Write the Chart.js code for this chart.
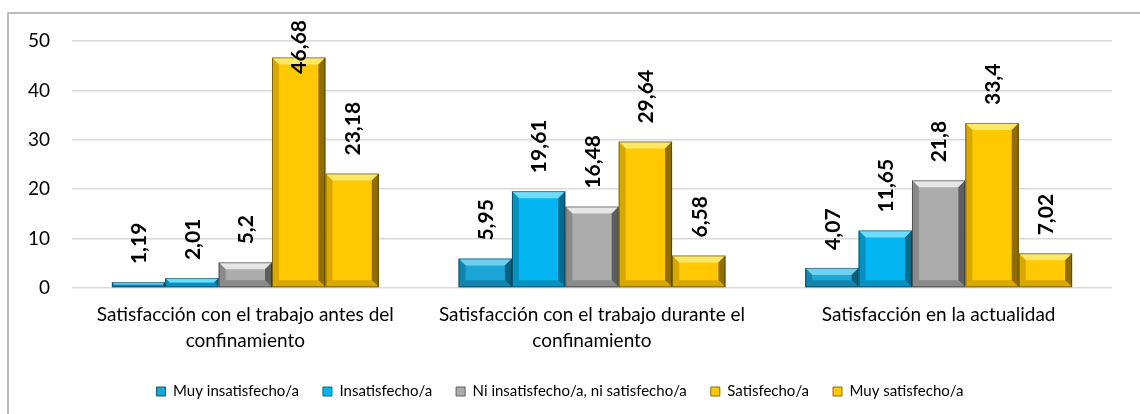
<!DOCTYPE html>
<html>
<head>
<meta charset="utf-8">
<script src="https://cdn.jsdelivr.net/npm/chart.js@4.4.1/dist/chart.umd.min.js"></script>
<style>
  html, body { margin: 0; padding: 0; background: #fff; }
  #wrap { width: 1140px; height: 414px; position: relative; }
</style>
</head>
<body>
<div id="wrap"><canvas id="chart"></canvas></div>
<script>
const categories = [
    ['Satisfacción con el trabajo antes del', 'confinamiento'],
    ['Satisfacción con el trabajo durante el', 'confinamiento'],
    'Satisfacción en la actualidad'
];
const seriesNames = [
    'Muy insatisfecho/a',
    'Insatisfecho/a',
    'Ni insatisfecho/a, ni satisfecho/a',
    'Satisfecho/a',
    'Muy satisfecho/a'
];
const muyInsatisfecho = [1.19, 5.95, 4.07];
const insatisfecho = [2.01, 19.61, 11.65];
const neutral = [5.2, 16.48, 21.8];
const satisfecho = [46.68, 29.64, 33.4];
const muySatisfecho = [23.18, 6.58, 7.02];
const yTicks = [0, 10, 20, 30, 40, 50];

// face, light bevel, side bevel, dark bevel
const palette = [
    ['#1ca6d8', '#6fd0f2', '#1284ad', '#0b5f7e'],
    ['#03b6f1', '#6fdcff', '#0591c2', '#036a8e'],
    ['#acacac', '#e6e6e6', '#8a8a8a', '#5e5e5e'],
    ['#ffc800', '#ffe866', '#d9a800', '#8f6d00'],
    ['#ffc800', '#ffe866', '#d9a800', '#8f6d00']
];

const values = [muyInsatisfecho, insatisfecho, neutral, satisfecho, muySatisfecho];

const datasets = values.map((v, i) => ({
    label: seriesNames[i],
    data: v,
    backgroundColor: palette[i][0],
    borderColor: palette[i][3],
    borderWidth: 1,
    borderSkipped: false,
    barPercentage: 1.0,
    categoryPercentage: 0.77
}));

const frame = {
    id: 'frame',
    beforeDraw(chart) {
        const ctx = chart.ctx;
        ctx.save();
        ctx.fillStyle = '#fff';
        ctx.fillRect(0, 0, chart.width, chart.height);
        ctx.strokeStyle = '#a6a6a6';
        ctx.lineWidth = 1.5;
        ctx.beginPath();
        ctx.moveTo(8, chart.height);
        ctx.lineTo(8, 13);
        ctx.lineTo(chart.width, 13);
        ctx.stroke();
        ctx.restore();
    }
};

function quad(ctx, pts, color) {
    ctx.fillStyle = color;
    ctx.beginPath();
    ctx.moveTo(pts[0][0], pts[0][1]);
    for (let k = 1; k < pts.length; k++) ctx.lineTo(pts[k][0], pts[k][1]);
    ctx.closePath();
    ctx.fill();
}

const bevel = {
    id: 'bevel',
    afterDatasetsDraw(chart) {
        const ctx = chart.ctx;
        ctx.save();
        chart.data.datasets.forEach((ds, i) => {
            const meta = chart.getDatasetMeta(i);
            meta.data.forEach(el => {
                const x0 = el.x - el.width / 2, x1 = el.x + el.width / 2;
                const top = el.y, bot = el.base;
                const b = Math.min(7, (bot - top) / 2);
                const c = palette[i];
                quad(ctx, [[x0, top], [x1, top], [x1 - b, top + b], [x0 + b, top + b]], c[1]);
                quad(ctx, [[x0, top], [x0 + b, top + b], [x0 + b, bot - b], [x0, bot]], c[2]);
                quad(ctx, [[x1, top], [x1, bot], [x1 - b, bot - b], [x1 - b, top + b]], c[3]);
                quad(ctx, [[x0, bot], [x1, bot], [x1 - b, bot - b], [x0 + b, bot - b]], c[2]);
                ctx.strokeStyle = 'rgba(0,0,0,0.4)';
                ctx.lineWidth = 1;
                ctx.strokeRect(x0 + 0.5, top + 0.5, el.width - 1, bot - top - 1);
            });
        });
        ctx.restore();
    }
};

const valueLabels = {
    id: 'valueLabels',
    afterDatasetsDraw(chart) {
        const ctx = chart.ctx;
        ctx.save();
        ctx.font = 'bold 21px Lato';
        ctx.fillStyle = '#000';
        ctx.textAlign = 'left';
        ctx.textBaseline = 'middle';
        chart.data.datasets.forEach((ds, i) => {
            const meta = chart.getDatasetMeta(i);
            meta.data.forEach((el, j) => {
                const txt = String(ds.data[j]).replace('.', ',');
                const w = ctx.measureText(txt).width;
                let start = el.y - 18;
                if (start - w < 20) start = 20 + w;
                ctx.save();
                ctx.translate(el.x + 1, start);
                ctx.rotate(-Math.PI / 2);
                ctx.fillText(txt, 0, 0);
                ctx.restore();
            });
        });
        ctx.restore();
    }
};

new Chart(document.getElementById('chart'), {
    type: 'bar',
    data: { labels: categories, datasets: datasets },
    plugins: [frame, bevel, valueLabels],
    options: {
        responsive: true,
        maintainAspectRatio: false,
        animation: false,
        layout: { padding: { top: 41, left: 8, right: 28, bottom: 5 } },
        plugins: {
            legend: {
                position: 'bottom',
                labels: {
                    boxWidth: 9,
                    boxHeight: 9,
                    padding: 24,
                    color: '#000',
                    font: { family: 'Lato', size: 15 }
                }
            },
            tooltip: { enabled: false }
        },
        scales: {
            x: {
                grid: { display: false, drawTicks: false },
                border: { display: false },
                ticks: {
                    color: '#000',
                    padding: 14,
                    maxRotation: 0,
                    autoSkip: false,
                    font: { family: 'Lato', size: 19, lineHeight: 1.35 }
                },
                afterFit(s) { s.height = 72; }
            },
            y: {
                min: 0,
                max: 50,
                afterBuildTicks(s) { s.ticks = yTicks.map(v => ({ value: v })); },
                grid: { color: '#d9d9d9', lineWidth: 1.5, drawTicks: false },
                border: { display: false },
                ticks: {
                    color: '#000',
                    padding: 22,
                    font: { family: 'Lato', size: 19 }
                },
                afterFit(s) { s.width = 64; }
            }
        }
    }
});
</script>
</body>
</html>
